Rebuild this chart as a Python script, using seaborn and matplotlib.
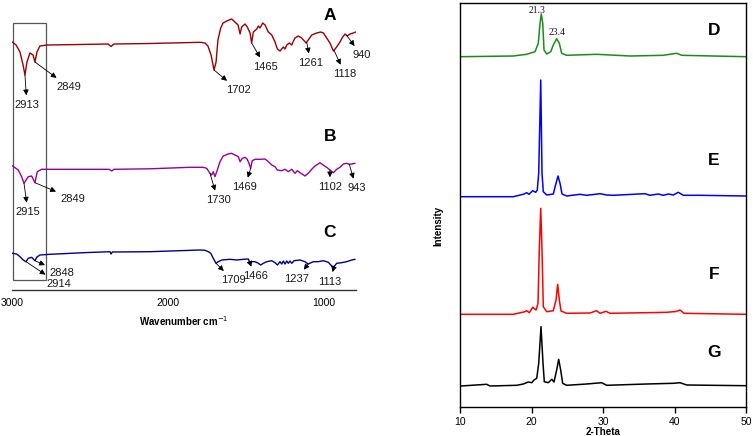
import numpy as np
import seaborn as sns
import matplotlib.pyplot as plt
from matplotlib.patches import Rectangle

# FTIR spectra (wavenumber cm-1, transmittance a.u.)
wn_a = [2998, 2974, 2949, 2929, 2917, 2904, 2885, 2865, 2853, 2840, 2821, 2776, 2564, 2385, 2365,
        2346, 2115, 1795, 1763, 1744, 1724, 1705, 1692, 1680, 1662, 1647, 1623, 1592, 1571, 1551,
        1538, 1528, 1506, 1492, 1474, 1464, 1453, 1431, 1421, 1410, 1393, 1378, 1357, 1335, 1314,
        1299, 1282, 1261, 1250, 1239, 1222, 1207, 1196, 1186, 1165, 1143, 1115, 1101, 1079, 1047,
        1021, 1004, 983, 962, 940, 919, 898, 880, 865, 851, 833, 812, 797]
tr_a = [258, 255, 248, 235, 225, 238, 247, 245, 238, 248, 254, 255, 255.5, 256, 253.5,
        256, 256.5, 257.7, 257, 254, 245, 230, 238, 260, 272, 277, 279, 281, 278, 275,
        266, 273, 276, 273, 267, 257, 268, 271, 274, 272, 277, 275, 268, 265, 258,
        251, 249, 253, 251, 255, 257, 255, 259, 262, 264, 262, 257, 260, 265, 267,
        268, 267, 262, 257, 249, 253, 258, 263, 266, 264, 266, 267, 268]

wn_b = [2998, 2960, 2938, 2923, 2896, 2874, 2853, 2838, 2810, 2564, 2378, 2361, 2346, 2115, 1859,
        1774, 1752, 1731, 1720, 1710, 1699, 1684, 1667, 1646, 1614, 1592, 1571, 1549, 1538, 1524,
        1506, 1492, 1481, 1470, 1460, 1442, 1410, 1378, 1357, 1335, 1314, 1299, 1271, 1250, 1229,
        1207, 1186, 1171, 1154, 1122, 1101, 1079, 1058, 1026, 1005, 983, 962, 940, 919, 898,
        876, 855, 838, 822, 801]
tr_b = [134.3, 130, 123.3, 116.7, 123.3, 124, 117.3, 128.3, 130.7, 130.7, 130.7, 129, 130.7, 131.2, 132.7,
        132.7, 131.7, 126.7, 125, 128.3, 123.3, 130, 138.3, 144, 146, 146.7, 145, 143.3, 138.3, 141.7,
        142.7, 140.7, 136.7, 131.7, 139.3, 140.7, 140.7, 141, 138.3, 135, 133.3, 130, 129.3, 130.7, 128.3,
        130.7, 126.7, 129.3, 127.3, 124, 126.7, 130.7, 134, 137.3, 135, 132.7, 130, 127.3, 130.7, 132.7,
        136, 136.7, 135.7, 136, 136.7]

wn_c = [2998, 2970, 2949, 2928, 2910, 2896, 2874, 2853, 2842, 2821, 2756, 2543, 2372, 2365, 2357,
        2115, 1795, 1763, 1742, 1726, 1710, 1692, 1678, 1656, 1603, 1560, 1517, 1485, 1474, 1463,
        1442, 1421, 1406, 1389, 1367, 1335, 1314, 1299, 1282, 1271, 1261, 1250, 1239, 1229, 1218,
        1207, 1192, 1154, 1122, 1101, 1069, 1037, 1005, 972, 951, 936, 919, 887, 855, 822, 801]
tr_c = [46.7, 46, 43.3, 40, 38.3, 41.7, 42.7, 39.3, 42.7, 45, 45.7, 47.3, 48.3, 46, 48,
        48.3, 50, 49.7, 48.3, 46.7, 41.7, 36.7, 38.3, 40, 40.7, 40, 40.7, 41, 36.7, 38.3,
        38.3, 36.7, 35, 36.7, 38.3, 39.3, 37.3, 35, 38.3, 36, 39, 36, 39, 36.7, 39,
        36.7, 39.3, 40, 38.3, 36, 38.3, 38.3, 39.3, 37.7, 34, 33.3, 36.7, 37.3, 38.3, 40, 40.7]

# peak marks: where the arrows start on each trace, and the printed labels
peaks_a = [2917, 2853, 1705, 1464, 1111, 936, 855]
labels_a = ['2913', '2849', '1702', '1465', '1261', '1118', '940']
peaks_b = [2923, 2853, 1731, 1470, 962, 838]
labels_b = ['2915', '2849', '1730', '1469', '1102', '943']
peaks_c = [2910, 2853, 1692, 1474, 1101, 936]
labels_c = ['2914', '2848', '1709', '1466', '1237', '1113']

# XRD patterns (2-theta, intensity a.u.)
th_d = [10.1, 17.45, 19.33, 20.49, 20.95, 21.19, 21.37, 21.57, 21.75, 22.13, 22.69, 23.05, 23.52,
        23.89, 24.22, 24.92, 29.12, 33.78, 38.43, 40.31, 41.01, 45.43, 49.96]
int_d = [350.3, 351, 352.7, 355.3, 363.7, 383.7, 393, 383.7, 357, 353, 355.3, 362, 368.3,
         363.7, 353.7, 351.7, 352.7, 351, 351.7, 353.7, 351.7, 351, 350.3]

th_e = [10.14, 17.45, 18.85, 19.33, 19.65, 20.17, 20.59, 20.81, 21.01, 21.29, 21.47, 21.65, 22.13,
        23.05, 23.43, 23.71, 23.99, 24.27, 24.92, 26.78, 27.72, 29.58, 30.52, 31.44, 35.87, 36.57,
        37.73, 38.43, 39.13, 39.83, 40.53, 41.23, 43.57, 49.96]
int_e = [210.3, 210.3, 212.7, 214.3, 212.7, 216.3, 214.7, 217, 234, 327, 234, 215.3, 212,
         213, 223.7, 231, 223.7, 213, 211, 212.7, 211.7, 213.3, 212, 211.7, 213.3, 211.7,
         213, 211.7, 213, 212, 214.7, 211.7, 211.7, 211]

th_f = [10.14, 17.45, 19.09, 19.33, 19.69, 20.17, 20.63, 20.91, 21.09, 21.29, 21.47, 21.65, 22.13,
        23.05, 23.43, 23.66, 23.89, 24.13, 24.92, 28.18, 29.12, 29.58, 30.42, 30.98, 35.87, 38.91,
        40.21, 40.77, 41.33, 49.96]
int_f = [92.7, 92.7, 95.3, 96.3, 94.3, 99.7, 97, 103.7, 157, 198.7, 157, 100.3, 95.3,
         96.3, 107, 122.7, 107, 96, 93.7, 94, 96.3, 93.7, 95.7, 93.7, 94.3, 94.7,
         95.5, 97, 93.7, 92.7]

th_g = [10.14, 13.73, 14.2, 17.93, 18.85, 19.55, 20.03, 20.35, 20.73, 21.01, 21.33, 21.61, 21.79,
        22.35, 22.83, 23.15, 23.52, 23.8, 24.08, 24.36, 24.92, 27.72, 29.82, 30.52, 36.11, 39.83,
        40.77, 41.71, 49.96]
int_g = [21, 22.7, 21, 21.7, 23, 25, 24.3, 27, 28.7, 43.7, 80.3, 43.7, 25.3,
         24.3, 27.7, 25, 37, 47.7, 37, 23.7, 21.7, 23, 24.3, 21.7, 23, 23.7,
         24.3, 22, 21.3]

xrd_peaks = [21.37, 23.52]
xrd_labels = ['21.3', '23.4']

sns.set_style('white')
plt.rcParams['font.family'] = ['Liberation Sans', 'DejaVu Sans']
plt.rcParams['text.color'] = 'black'
plt.rcParams['axes.labelcolor'] = 'black'
plt.rcParams['xtick.color'] = 'black'

fig = plt.figure(figsize=(7.53, 4.36), dpi=100)
ax1 = fig.add_axes([12 / 753, 146 / 436, 344 / 753, 290 / 436])
ax2 = fig.add_axes([460 / 753, 29 / 436, 286 / 753, 404 / 436])

# ---- FTIR panel
for wn, tr, col in [(wn_a, tr_a, '#9b0000'), (wn_b, tr_b, '#990099'), (wn_c, tr_c, '#00008f')]:
    sns.lineplot(x=wn, y=tr, color=col, linewidth=1.0, ax=ax1)

arrow = dict(arrowstyle='<|-', color='black', lw=0.6, mutation_scale=8, shrinkA=1, shrinkB=0)


def mark_peaks(ax, wn, tr, peaks, labels, offsets):
    for p, lab, off in zip(peaks, labels, offsets):
        y = np.interp(p, wn[::-1], tr[::-1])
        ax.annotate(lab, xy=(p, y), xytext=off, textcoords='offset pixels',
                    ha='center', va='center', fontsize=8, color='#1a1a1a', arrowprops=arrow)


mark_peaks(ax1, wn_a, tr_a, peaks_a, labels_a,
           [(2, -30), (34, -25), (24, -20), (14, -24), (4, -21), (11, -24), (15, -20)])
mark_peaks(ax1, wn_b, tr_b, peaks_b, labels_b,
           [(4, -29), (38, -16), (8, -27), (-6, -19), (0, -17), (7, -24)])
mark_peaks(ax1, wn_c, tr_c, peaks_c, labels_c,
           [(33, -22), (27, -12), (17, -17), (5, -13), (-12, -15), (-4, -15)])

ax1.add_patch(Rectangle((2995, 20), 2782 - 2995, 257, fill=False, edgecolor='#555555', lw=0.9))

for lab, yy in [('A', 0.948), ('B', 0.528), ('C', 0.197)]:
    ax1.text(0.924, yy, lab, transform=ax1.transAxes, ha='center', va='center',
             fontsize=12.5, fontweight='bold')

ax1.set_xlim(3000, 795)
ax1.set_ylim(10, 300)
ax1.set_yticks([])
ax1.set_xticks([3000, 2000, 1000])
ax1.tick_params(axis='x', length=0, pad=6, labelsize=7.5)
for s in ['left', 'right', 'top']:
    ax1.spines[s].set_visible(False)
ax1.spines['bottom'].set_color('#333333')
ax1.spines['bottom'].set_linewidth(1.0)
ax1.set_xlabel('Wavenumber cm$^{-1}$', fontsize=7, fontweight='bold', labelpad=4)
ax1.set_ylabel('')

# ---- XRD panel
for th, it, col in [(th_d, int_d, '#1a8c1a'), (th_e, int_e, '#0000ff'),
                    (th_f, int_f, '#ff0000'), (th_g, int_g, 'black')]:
    sns.lineplot(x=th, y=it, color=col, linewidth=1.1, ax=ax2)

for p, lab, off in zip(xrd_peaks, xrd_labels, [(-4, 3), (0, 6)]):
    y = np.interp(p, th_d, int_d)
    ax2.annotate(lab, xy=(p, y), xytext=off, textcoords='offset pixels', ha='center',
                 va='center', fontsize=7, family='Liberation Serif', color='#1a1a1a')

for lab, yy in [('D', 0.933), ('E', 0.609), ('F', 0.327), ('G', 0.134)]:
    ax2.text(0.888, yy, lab, transform=ax2.transAxes, ha='center', va='center',
             fontsize=12.5, fontweight='bold')

ax2.set_xlim(10, 50)
ax2.set_ylim(0, 404)
ax2.set_yticks([])
ax2.set_xticks([10, 20, 30, 40, 50])
ax2.tick_params(axis='x', direction='out', length=4, width=1, pad=3, labelsize=7.5, bottom=True)
for s in ax2.spines.values():
    s.set_color('black')
    s.set_linewidth(1.0)
ax2.set_xlabel('2-Theta', fontsize=7, fontweight='bold', labelpad=0)
ax2.set_ylabel('Intensity', fontsize=7, fontweight='bold')
ax2.yaxis.set_label_coords(-0.059, 0.448)

fig.savefig('out.png', dpi=100)
